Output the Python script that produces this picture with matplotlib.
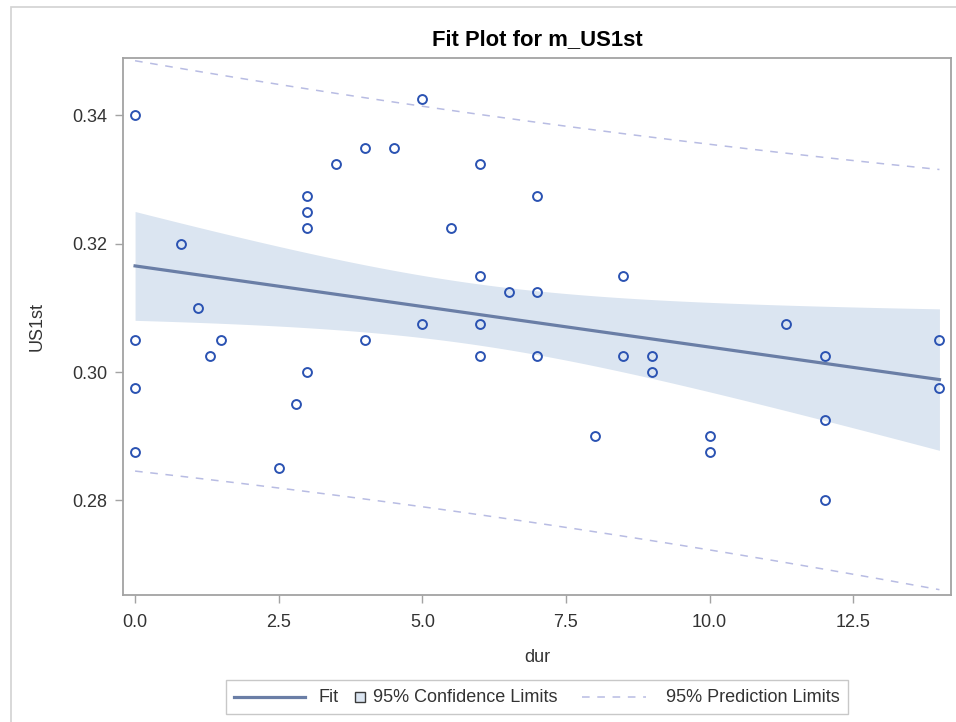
import numpy as np
import matplotlib
matplotlib.use("Agg")
import matplotlib.pyplot as plt
from matplotlib.lines import Line2D
from matplotlib.patches import Rectangle
from matplotlib.offsetbox import DrawingArea, TextArea, HPacker, AnchoredOffsetbox

plt.rcParams['font.family'] = ['Liberation Sans', 'DejaVu Sans']

# ---- data ----
dur = [0, 0, 0, 0, 0.8, 1.1, 1.3, 1.5, 2.5, 2.8,
       3, 3, 3, 3, 3.5, 4, 4, 4.5, 5, 5,
       5.5, 6, 6, 6, 6, 6.5, 7, 7, 7, 8,
       8.5, 8.5, 9, 9, 10, 10, 11.33, 12, 12, 12,
       14, 14]
us1st = [0.340, 0.305, 0.2975, 0.2875, 0.320, 0.310, 0.3025, 0.305, 0.285, 0.295,
         0.3275, 0.325, 0.3225, 0.300, 0.3325, 0.335, 0.305, 0.335, 0.3425, 0.3075,
         0.3225, 0.3325, 0.315, 0.3075, 0.3025, 0.3125, 0.3275, 0.3125, 0.3025, 0.290,
         0.315, 0.3025, 0.3025, 0.300, 0.290, 0.2875, 0.3075, 0.3025, 0.2925, 0.280,
         0.305, 0.2975]
x_ticks = [0, 2.5, 5, 7.5, 10, 12.5]
x_tick_labels = ["0.0", "2.5", "5.0", "7.5", "10.0", "12.5"]
y_ticks = [0.28, 0.30, 0.32, 0.34]
y_tick_labels = ["0.28", "0.30", "0.32", "0.34"]
t_crit = 2.021  # t(0.975, df = 40)

# ---- styles ----
marker_color = '#2a52b2'
fit_color = '#6a7ea6'
ci_color = '#dbe5f1'
pi_color = '#b8bce3'
spine_color = '#a3a3a3'
text_color = '#333333'

# ---- regression ----
x = np.array(dur, dtype=float)
y = np.array(us1st, dtype=float)
n = len(x)
b1, b0 = np.polyfit(x, y, 1)
resid = y - (b0 + b1 * x)
s = np.sqrt(np.sum(resid ** 2) / (n - 2))
xbar = x.mean()
sxx = np.sum((x - xbar) ** 2)
xg = np.linspace(x.min(), x.max(), 200)
yhat = b0 + b1 * xg
se_mean = s * np.sqrt(1 / n + (xg - xbar) ** 2 / sxx)
se_pred = s * np.sqrt(1 + 1 / n + (xg - xbar) ** 2 / sxx)

W, H = 956, 722
fig = plt.figure(figsize=(W / 100, H / 100), dpi=100)
fig.patch.set_facecolor('white')

ax_l, ax_r, ax_t, ax_b = 123, 951.5, 58, 595
ax = fig.add_axes([ax_l / W, 1 - ax_b / H, (ax_r - ax_l) / W, (ax_b - ax_t) / H])

ax.fill_between(xg, yhat - t_crit * se_mean, yhat + t_crit * se_mean,
                color=ci_color, lw=0, zorder=1)
ax.plot(xg, yhat + t_crit * se_pred, color=pi_color, lw=1.1, ls=(0, (5, 5)), zorder=2)
ax.plot(xg, yhat - t_crit * se_pred, color=pi_color, lw=1.1, ls=(0, (5, 5)), zorder=2)
ax.plot(xg, yhat, color=fit_color, lw=2.3, zorder=3)
ax.plot(x, y, ls='none', marker='o', ms=6.4, mfc='none', mec=marker_color, mew=1.4, zorder=4)

ax.set_xlim(-0.21, 14.21)
ax.set_ylim(0.26527, 0.34896)
ax.set_xticks(x_ticks)
ax.set_xticklabels(x_tick_labels)
ax.set_yticks(y_ticks)
ax.set_yticklabels(y_tick_labels)
for sp in ax.spines.values():
    sp.set_color(spine_color)
    sp.set_linewidth(1.3)
ax.tick_params(direction='out', length=6, width=1, color=spine_color,
               labelcolor=text_color, labelsize=13)
ax.tick_params(axis='x', pad=8)
ax.tick_params(axis='y', pad=5.5)
ax.set_xlabel('dur', fontsize=13, color=text_color, labelpad=13)
ax.set_ylabel('US1st', fontsize=13, color=text_color, labelpad=19)

fig.text(537 / W, 1 - 45 / H, 'Fit Plot for m_US1st', ha='center', va='baseline',
         fontsize=15.8, fontweight='bold', color='black')

# outer border
fig.add_artist(Rectangle((11 / W, -0.05), 1.0, 1 - 7 / H + 0.05, transform=fig.transFigure,
                         fill=False, ec='#d2d2d2', lw=1.2))

# ---- legend ----
px = 0.72  # points per pixel at dpi 100
hh = 14 * px


def spacer(w):
    return DrawingArea(w * px, hh, 0, 0)


da_fit = DrawingArea(71 * px, hh, 0, 0)
da_fit.add_artist(Line2D([0, 71 * px], [hh / 2, hh / 2], color=fit_color, lw=2.3))
da_ci = DrawingArea(11 * px, hh, 0, 0)
sq = 10 * px
da_ci.add_artist(Rectangle((0.5 * px, (hh - sq) / 2), sq, sq, fc=ci_color, ec='#3a3a3a', lw=1))
da_pi = DrawingArea(64 * px, hh, 0, 0)
da_pi.add_artist(Line2D([0, 64 * px], [hh / 2, hh / 2], color=pi_color, lw=1.1, ls=(0, (5, 5))))
tp = dict(fontsize=13, color=text_color)
children = [da_fit, spacer(13), TextArea('Fit', textprops=tp), spacer(16), da_ci, spacer(8),
            TextArea('95% Confidence Limits', textprops=tp), spacer(24), da_pi, spacer(20),
            TextArea('95% Prediction Limits', textprops=tp)]
pack = HPacker(children=children, align='center', pad=0, sep=0)
leg = AnchoredOffsetbox(loc='center', child=pack, pad=0.45, borderpad=0, frameon=True,
                        bbox_to_anchor=(537 / W, 1 - 697 / H), bbox_transform=fig.transFigure,
                        prop=dict(size=13))
leg.patch.set_boxstyle('square,pad=0')
leg.patch.set_edgecolor('#c8c8c8')
leg.patch.set_linewidth(1)
fig.add_artist(leg)

fig.savefig('out.png', dpi=100, facecolor='white')
